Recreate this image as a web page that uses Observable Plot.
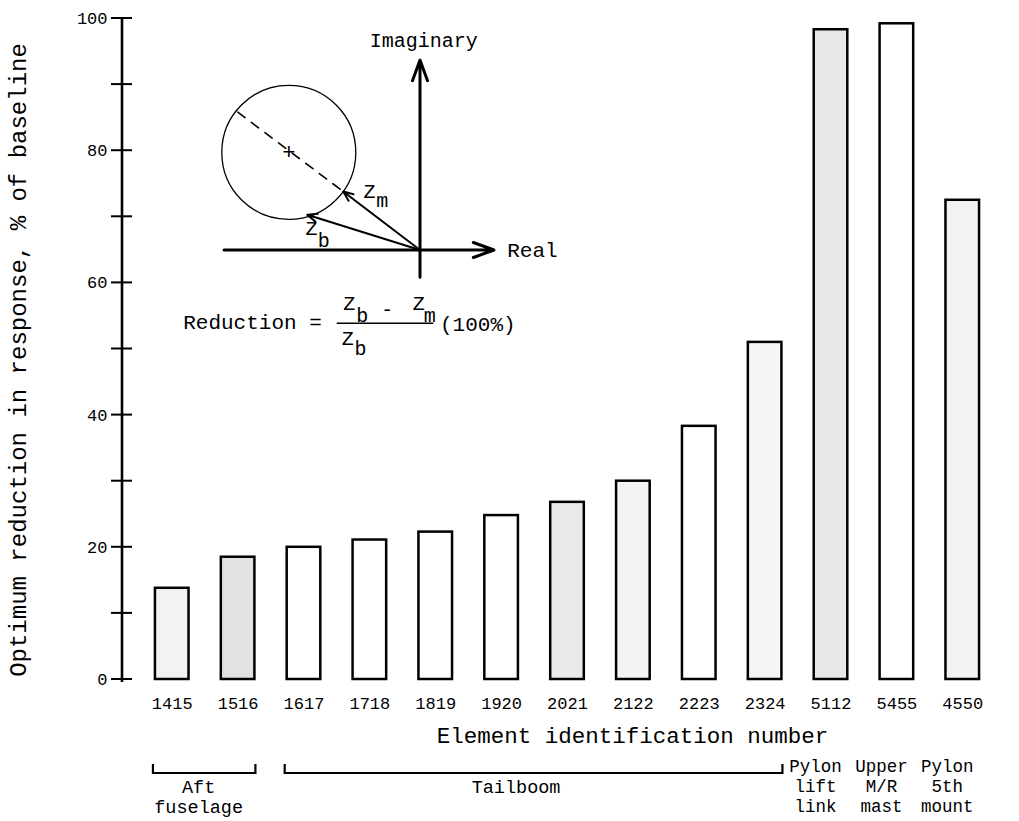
<!DOCTYPE html>
<html><head><meta charset="utf-8">
<script src="https://cdn.jsdelivr.net/npm/d3@7"></script>
<script src="https://cdn.jsdelivr.net/npm/@observablehq/plot@0.6"></script>
<style>
html,body{margin:0;padding:0;background:#fff;}
#wrap{position:relative;width:1019px;height:821px;background:#fff;}
#wrap svg{position:absolute;left:0;top:0;}
</style></head><body><div id="wrap"></div>
<script>
// ---- data ----
const ids = ["1415","1516","1617","1718","1819","1920","2021","2122","2223","2324","5112","5455","4550"];
const values = [13.8, 18.5, 20.0, 21.1, 22.3, 24.8, 26.8, 30.0, 38.3, 51.0, 98.3, 99.2, 72.5];
const yTicks = [0,10,20,30,40,50,60,70,80,90,100];
const yLabels = [0,20,40,60,80,100];
const yTitle = "Optimum reduction in response, % of baseline";
const xTitle = "Element identification number";
const groupNames = [["Aft","fuselage"],["Tailboom"],["Pylon","lift","link"],["Upper","M/R","mast"],["Pylon","5th","mount"]];
const groupFrom = ["1415","1617","5112","5455","4550"];
const groupTo   = ["1516","2324","5112","5455","4550"];

// inset diagram (complex plane, arbitrary units)
const realAxis = [{x1:-9.8, y1:0, x2:3.7, y2:0}];
const imagAxis = [{x1:0, y1:-1.36, x2:0, y2:9.5}];
const circleCenter = [[-6.56, 4.88]];
const diameter = [[-9.11, 6.89], [-3.84, 2.925]];
const vectors = [{x1:0, y1:0, x2:-3.84, y2:2.925}, {x1:0, y1:0, x2:-5.64, y2:1.76}];
const insetLabelsMid = [
  {t:"Imaginary", x:0.19, y:10.47},
  {t:"Z", x:-2.52, y:2.93}, {t:"m", x:-1.89, y:2.48},
  {t:"Z", x:-5.43, y:1.05}, {t:"b", x:-4.81, y:0.475},
  {t:"Z", x:-3.54, y:-2.69}, {t:"b", x:-2.89, y:-3.28}, {t:"-", x:-1.64, y:-2.98},
  {t:"Z", x:-0.06, y:-2.69}, {t:"m", x:0.49, y:-3.28},
  {t:"Z", x:-3.61, y:-4.44}, {t:"b", x:-2.98, y:-4.94}
];
const insetLabelsStart = [
  {t:"Real", x:4.36, y:0},
  {t:"Reduction =", x:-11.84, y:-3.61},
  {t:"(100%)", x:1.0, y:-3.72}
];
const fractionBar = [{y:-3.66, x1:-4.14, x2:0.69}];

// ---- styles ----
const FONT = "'Liberation Mono','DejaVu Sans Mono',monospace";
const barTone = {"1516":"#e2e2e2","5112":"#e8e8e8","2021":"#eaeaea","1415":"#f2f2f2","2122":"#f3f3f3","2324":"#f5f5f5","4550":"#f3f3f3"};
const W = 1019, H = 821;

const table = ids.map((id, i) => ({id, value: values[i]}));

const chart = Plot.plot({
  width: W, height: H,
  marginTop: 18, marginBottom: 142, marginLeft: 122, marginRight: 7,
  style: {fontFamily: FONT, fontSize: "20px", background: "transparent", color: "black"},
  x: {domain: ids, paddingInner: 0.49, paddingOuter: 0.5, round: false, label: null},
  y: {domain: [0, 100], label: null},
  color: {type: "identity"},
  marks: [
    Plot.barY(table, {x: "id", y: "value", fill: d => barTone[d.id] ?? "white", stroke: "black", strokeWidth: 2.5}),
    Plot.axisY({ticks: yLabels, tickSize: 0, tickPadding: 15, fontSize: 17, label: null}),
    Plot.axisX({tickSize: 0, tickPadding: 17, fontSize: 17, label: null}),
    Plot.text([yTitle], {text: d => d, frameAnchor: "left", textAnchor: "middle", rotate: -90, dx: -104, dy: 11, fontSize: 24}),
    Plot.text([xTitle], {text: d => d, frameAnchor: "bottom", dx: 65, dy: 63, fontSize: 22.5})
  ]
});
document.getElementById("wrap").appendChild(chart);

// axis line, crossing ticks, group brackets and labels via Plot's scales
const xs = chart.scale("x"), ys = chart.scale("y");
const step = xs.step ?? (xs.apply(ids[1]) - xs.apply(ids[0]));
const bw = xs.bandwidth ?? step * (1 - 0.49);
const svg = d3.select(chart);
const axX = 122;
const ga = svg.append("g").attr("stroke", "black").attr("fill", "none");
ga.append("line").attr("x1", axX).attr("x2", axX).attr("y1", ys.apply(100)).attr("y2", ys.apply(0) + 3).attr("stroke-width", 2.6);
yTicks.forEach(t => ga.append("line").attr("x1", axX - 11).attr("x2", axX + 10)
  .attr("y1", ys.apply(t)).attr("y2", ys.apply(t)).attr("stroke-width", 2));

const y0 = ys.apply(0);
const gl = svg.append("g").attr("font-family", FONT).attr("text-anchor", "middle").attr("fill", "black");
groupNames.forEach((lines, i) => {
  const a = xs.apply(groupFrom[i]), b = xs.apply(groupTo[i]) + bw;
  const multi = groupFrom[i] !== groupTo[i];
  if (multi) {
    const yb = y0 + 94;
    ga.append("path").attr("d", `M${a-2},${yb-9}L${a-2},${yb}L${b+1},${yb}L${b+1},${yb-9}`).attr("stroke-width", 2.2);
  }
  const cx = (a + b) / 2 + (multi ? (i === 1 ? -18 : -6) : -15);
  const top = multi ? y0 + 114 : y0 + 93;
  const t = gl.append("text").attr("font-size", multi ? 18.5 : 17.5);
  lines.forEach((s, k) => t.append("tspan").attr("x", cx).attr("y", top + k * 20).text(s));
});

// inset diagram
const inset = Plot.plot({
  width: W, height: H, margin: 0,
  style: {fontFamily: FONT, background: "transparent", color: "black", overflow: "visible"},
  x: {domain: [-10, 4], range: [219.5, 499.5], axis: null},
  y: {domain: [-1.5, 9.5], range: [279.5, 59.5], axis: null},
  marks: [
    Plot.dot(circleCenter, {x: d => d[0], y: d => d[1], r: 67, stroke: "black", strokeWidth: 1.3, fill: "none"}),
    Plot.line(diameter, {x: d => d[0], y: d => d[1], stroke: "black", strokeWidth: 1.6, strokeDasharray: "9,8"}),
    Plot.text(circleCenter, {x: d => d[0], y: d => d[1], text: () => "+", fontSize: 22}),
    Plot.arrow(realAxis, {x1: "x1", y1: "y1", x2: "x2", y2: "y2", stroke: "black", strokeWidth: 3, headLength: 11, headAngle: 40}),
    Plot.arrow(imagAxis, {x1: "x1", y1: "y1", x2: "x2", y2: "y2", stroke: "black", strokeWidth: 3, headLength: 11, headAngle: 40}),
    Plot.arrow(vectors, {x1: "x1", y1: "y1", x2: "x2", y2: "y2", stroke: "black", strokeWidth: 2, headLength: 8, headAngle: 45}),
    Plot.ruleY(fractionBar, {y: "y", x1: "x1", x2: "x2", stroke: "black", strokeWidth: 1.6}),
    Plot.text(insetLabelsMid, {x: "x", y: "y", text: "t", fontSize: 20}),
    Plot.text(insetLabelsStart, {x: "x", y: "y", text: "t", fontSize: 21, textAnchor: "start"})
  ]
});
document.getElementById("wrap").appendChild(inset);
</script>
</body></html>
